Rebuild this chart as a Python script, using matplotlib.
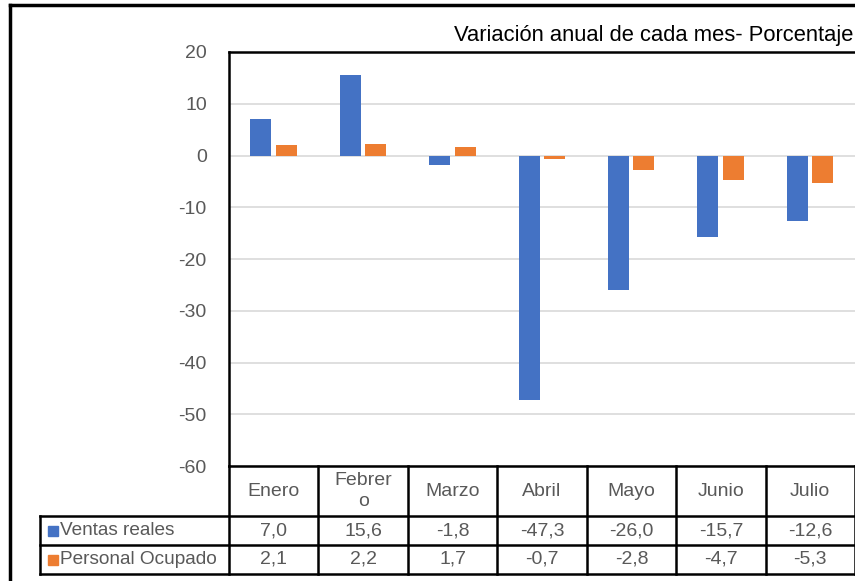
import matplotlib.pyplot as plt
from matplotlib.lines import Line2D

plt.rcParams['font.family'] = ['Liberation Sans', 'DejaVu Sans']
plt.rcParams['axes.unicode_minus'] = False

# data
meses = ['Enero', 'Febrer\no', 'Marzo', 'Abril', 'Mayo', 'Junio', 'Julio']
ventas = [7.0, 15.6, -1.8, -47.3, -26.0, -15.7, -12.6]
personal = [2.1, 2.2, 1.7, -0.7, -2.8, -4.7, -5.3]
series = ['Ventas reales', 'Personal Ocupado']
colores = ['#4472C4', '#ED7D31']
gris = '#595959'
fs = 14

fig = plt.figure(figsize=(8.55, 5.81), dpi=100)
W, H = 855, 581

# axes placed in pixel terms
x0, x1, y0, y1 = 229, 855, 466, 52
ax = fig.add_axes([x0 / W, (H - y0) / H, (x1 - x0) / W, (y0 - y1) / H])

n = len(meses)
xs = list(range(n))
bw = 0.235
ax.bar([x - 0.145 for x in xs], ventas, bw, color=colores[0], zorder=3)
ax.bar([x + 0.14 for x in xs], personal, bw, color=colores[1], zorder=3)

ax.set_xlim(-0.5, n - 0.5)
ax.set_ylim(-60, 20)
ax.set_yticks(range(-60, 21, 10))
ax.tick_params(axis='y', length=0, labelsize=fs, labelcolor=gris, pad=16)
ax.set_xticks([])
ax.grid(axis='y', color='#d9d9d9', linewidth=1.2, zorder=0)
ax.spines['right'].set_visible(False)
for s in ['left', 'top', 'bottom']:
    ax.spines[s].set_linewidth(1.8)
    ax.spines[s].set_color('black')

# table under the plot
colw = (x1 - x0) / n
left = -0.5 - (x0 - 40) / colw
ph = y0 - y1
hdr = -50 / ph
r1 = hdr - 29 / ph
r2 = r1 - 29 / ph
tr = ax.get_xaxis_transform()

def hline(xa, xb, y):
    ax.add_line(Line2D([xa, xb], [y, y], transform=tr, color='black', lw=1.8, clip_on=False))

def vline(x, ya, yb):
    ax.add_line(Line2D([x, x], [ya, yb], transform=tr, color='black', lw=1.8, clip_on=False))

hline(left, n - 0.5 + 0.02, hdr)
hline(left, n - 0.5 + 0.02, r1)
hline(left, n - 0.5 + 0.02, r2)
vline(left, hdr, r2)
for i in range(n + 1):
    vline(i - 0.5, 0, r2)

for i, m in enumerate(meses):
    ax.text(i, hdr / 2, m, transform=tr, ha='center', va='center', fontsize=fs,
            color=gris, linespacing=1.3)
    ax.text(i, (hdr + r1) / 2, f'{ventas[i]:.1f}'.replace('.', ','), transform=tr,
            ha='center', va='center', fontsize=fs, color=gris)
    ax.text(i, (r1 + r2) / 2, f'{personal[i]:.1f}'.replace('.', ','), transform=tr,
            ha='center', va='center', fontsize=fs, color=gris)

for k, (nombre, c) in enumerate(zip(series, colores)):
    yc = (hdr + r1) / 2 if k == 0 else (r1 + r2) / 2
    ax.plot([left + 0.14], [yc], marker='s', ms=6.5, color=c, transform=tr, clip_on=False)
    ax.text(left + 0.225, yc, nombre, transform=tr, ha='left', va='center',
            fontsize=13.7, color=gris)

# subtitle and outer frame
fig.text(853 / W, 1 - 35 / H, 'Variación anual de cada mes- Porcentaje',
         ha='right', va='center', fontsize=15.8, color='black')
fig.add_artist(Line2D([10 / W, 10 / W], [0, 1 - 5 / H], color='black', lw=2.5))
fig.add_artist(Line2D([10 / W, 1], [1 - 5 / H, 1 - 5 / H], color='black', lw=2.5))

fig.savefig('out.png', dpi=100)
